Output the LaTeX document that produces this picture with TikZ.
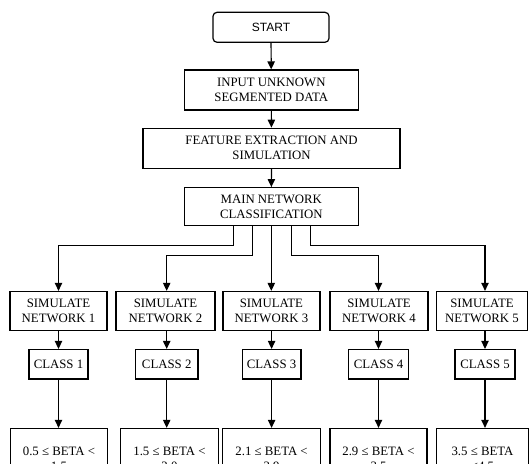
\documentclass[tikz,border=0pt]{standalone}
\usepackage{fontspec}
\setmainfont{Liberation Serif}
\newfontfamily\startfont{Liberation Sans}
\usetikzlibrary{arrows.meta,calc}
\newcommand{\px}{0.75pt}
\tikzset{
    flowbox/.style={draw, line width=0.9pt, align=center, inner sep=0pt,
        font=\fontsize{9.6}{11.25}\selectfont},
    flowline/.style={line width=0.9pt, -{Triangle[length=6pt,width=5.5pt]}}
}

\begin{document}
\begin{tikzpicture}[x=\px, y=-\px]
    \useasboundingbox (0,0) rectangle (529,464);
    \clip (0,0) rectangle (529,464);

    % Main chain
    \node[flowbox, rounded corners=3pt, font=\startfont\fontsize{9}{11}\selectfont,
        minimum width=116*\px, minimum height=30*\px] (start) at (271,27.3) {START};
    \node[flowbox, minimum width=174*\px, minimum height=40*\px] (input) at (271.3,90)
        {INPUT UNKNOWN\\SEGMENTED DATA};
    \node[flowbox, minimum width=257*\px, minimum height=40*\px] (feature) at (271.5,148.3)
        {FEATURE EXTRACTION AND\\SIMULATION};
    \node[flowbox, minimum width=174*\px, minimum height=38*\px] (main) at (271.3,206.7)
        {MAIN NETWORK\\CLASSIFICATION};

    \draw[flowline] (start) -- (input);
    \draw[flowline] (input) -- (feature);
    \draw[flowline] (feature) -- (main);

    % Simulate networks
    \node[flowbox, minimum width=97*\px, minimum height=39*\px] (sim1) at (58.5,311) {SIMULATE\\NETWORK 1};
    \node[flowbox, minimum width=99*\px, minimum height=39*\px] (sim2) at (165.5,311) {SIMULATE\\NETWORK 2};
    \node[flowbox, minimum width=97*\px, minimum height=39*\px] (sim3) at (271.4,311) {SIMULATE\\NETWORK 3};
    \node[flowbox, minimum width=98*\px, minimum height=39*\px] (sim4) at (379,311) {SIMULATE\\NETWORK 4};
    \node[flowbox, minimum width=90.6*\px, minimum height=39*\px] (sim5) at (482,311) {SIMULATE\\NETWORK 5};

    % Classes
    \node[flowbox, minimum width=59*\px, minimum height=29.5*\px] (class1) at (58.5,364.3) {CLASS 1};
    \node[flowbox, minimum width=62.6*\px, minimum height=29.5*\px] (class2) at (166.7,364.3) {CLASS 2};
    \node[flowbox, minimum width=58.7*\px, minimum height=29.5*\px] (class3) at (271.6,364.3) {CLASS 3};
    \node[flowbox, minimum width=60*\px, minimum height=29.5*\px] (class4) at (378.5,364.3) {CLASS 4};
    \node[flowbox, minimum width=60*\px, minimum height=29.5*\px] (class5) at (485,364.3) {CLASS 5};

    % Beta ranges
    \node[flowbox, minimum width=96.6*\px, minimum height=60*\px] (beta1) at (59,458.5) {0.5 ≤ BETA <\\1.5};
    \node[flowbox, minimum width=97.6*\px, minimum height=60*\px] (beta2) at (169.5,458.5) {1.5 ≤ BETA <\\2.0};
    \node[flowbox, minimum width=97.8*\px, minimum height=60*\px] (beta3) at (271.6,458.5) {2.1 ≤ BETA <\\2.9};
    \node[flowbox, minimum width=97*\px, minimum height=60*\px] (beta4) at (378.5,458.5) {2.9 ≤ BETA <\\3.5};
    \node[flowbox, minimum width=91.6*\px, minimum height=60*\px] (beta5) at (482.5,458.5) {3.5 ≤ BETA\\<4.5};

    % Branches from main network
    \draw[flowline] ($(main.south)+(-38,0)$) -- ++(0,19.3) -| (class1.north |- sim1.north);
    \draw[flowline] ($(main.south)+(-19,0)$) -- ++(0,28.8) -| (class2.north |- sim2.north);
    \draw[flowline] (main.south) -- (main.south |- sim3.north);
    \draw[flowline] ($(main.south)+(20,0)$) -- ++(0,28.8) -| (class4.north |- sim4.north);
    \draw[flowline] ($(main.south)+(39,0)$) -- ++(0,19.3) -| (class5.north |- sim5.north);

    \foreach \i in {1,...,5} {
        \draw[flowline] (class\i.north |- sim\i.south) -- (class\i.north);
        \draw[flowline] (class\i.south) -- (class\i.south |- beta\i.north);
    }

\end{tikzpicture}
\end{document}
